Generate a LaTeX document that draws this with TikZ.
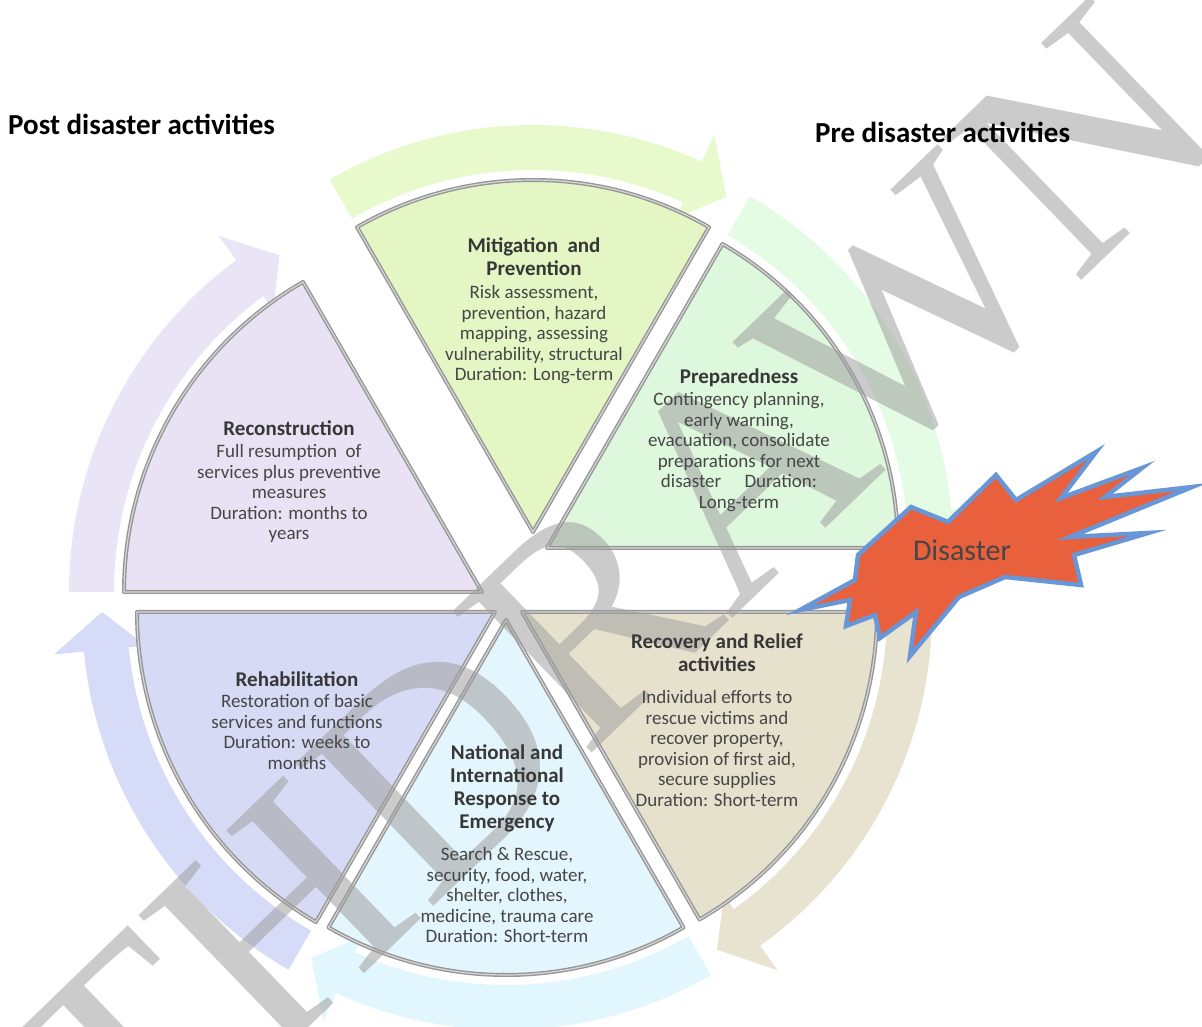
\documentclass[tikz,border=0pt]{standalone}
\usepackage{fontspec}
\setmainfont{Carlito}
\newfontfamily\wmfont{Liberation Serif}
\usepackage{tikz}
\usepackage{xcolor}
\usetikzlibrary{positioning, calc}
\definecolor{mitfill}{RGB}{228,246,196}
\definecolor{mitband}{RGB}{232,250,204}
\definecolor{prepfill}{RGB}{222,248,222}
\definecolor{prepband}{RGB}{228,251,228}
\definecolor{recofill}{RGB}{233,226,244}
\definecolor{recoband}{RGB}{234,229,246}
\definecolor{rehafill}{RGB}{214,218,245}
\definecolor{rehaband}{RGB}{214,219,247}
\definecolor{respfill}{RGB}{228,246,253}
\definecolor{respband}{RGB}{226,246,253}
\definecolor{relifill}{RGB}{230,225,205}
\definecolor{reliband}{RGB}{231,227,208}
\definecolor{segline}{RGB}{150,150,150}
\definecolor{segin}{RGB}{215,215,215}
\definecolor{labelgray}{RGB}{70,70,70}
\definecolor{titlegray}{RGB}{55,55,55}
\definecolor{burstred}{RGB}{232,96,60}
\definecolor{burstblue}{RGB}{104,150,214}
\definecolor{wmgray}{RGB}{160,160,160}
\tikzstyle{Sector} = [draw=segline, double=segin, double distance=1.2pt, line width=1.4pt, line join=round]
\tikzstyle{Label} = [align=center, text=labelgray, inner sep=0pt, anchor=north,
  font=\fontsize{19}{20.5}\selectfont]
\tikzstyle{Head} = [inner sep=0pt, anchor=west, font=\fontsize{29}{34}\selectfont\bfseries]
\tikzstyle{Burst} = [fill=burstred, draw=burstblue, line width=4.5pt, line join=miter]
\tikzstyle{Watermark} = [text=wmgray, opacity=0.55, rotate=44, inner sep=0pt,
  font=\fontsize{303}{303}\wmfont]
\newcommand{\ttl}[1]{{\fontsize{21}{20.5}\selectfont\bfseries\color{titlegray}#1}}
\newcommand{\cyclearrow}[5]{%
  \pgfmathsetmacro{\rin}{#2+10}\pgfmathsetmacro{\rout}{#2+55}%
  \pgfmathsetmacro{\rbarbin}{#2-7}\pgfmathsetmacro{\rbarbout}{#2+85}%
  \pgfmathsetmacro{\rtip}{#2+35}\pgfmathsetmacro{\abase}{#4+5.5}%
  \fill[#5] ($(#1)+(#3:\rout)$) arc[start angle=#3, end angle=\abase, radius=\rout]
    -- ($(#1)+(\abase:\rbarbout)$) -- ($(#1)+(#4:\rtip)$) -- ($(#1)+(\abase:\rbarbin)$)
    -- ($(#1)+(\abase:\rin)$) arc[start angle=\abase, end angle=#3, radius=\rin] -- cycle;}

\begin{document}
\begin{tikzpicture}[x=1pt, y=1pt]
    \useasboundingbox (0,0) rectangle (1202,1026);
    \clip (0,0) rectangle (1202,1026);

    \coordinate (mitigation) at (533,494);
    \coordinate (preparedness) at (547,478);
    \coordinate (reconstruction) at (482,434);
    \coordinate (rehabilitation) at (495,414);
    \coordinate (response) at (506,406);
    \coordinate (recovery) at (522,414);

    \cyclearrow{mitigation}{352}{120}{60}{mitband}
    \cyclearrow{preparedness}{351}{60}{0}{prepband}
    \cyclearrow{recovery}{355}{360}{300}{reliband}
    \cyclearrow{response}{355}{300}{240}{respband}
    \cyclearrow{rehabilitation}{358}{240}{180}{rehaband}
    \cyclearrow{reconstruction}{358}{180}{121}{recoband}

    \draw[Sector, fill=mitfill] (mitigation) -- ++(60:352) arc[start angle=60, end angle=120, radius=352] -- cycle;
    \draw[Sector, fill=prepfill] (preparedness) -- ++(0:351) arc[start angle=0, end angle=60, radius=351] -- cycle;
    \draw[Sector, fill=recofill] (reconstruction) -- ++(120:358) arc[start angle=120, end angle=180, radius=358] -- cycle;
    \draw[Sector, fill=rehafill] (rehabilitation) -- ++(180:358) arc[start angle=180, end angle=240, radius=358] -- cycle;
    \draw[Sector, fill=respfill] (response) -- ++(240:355) arc[start angle=240, end angle=300, radius=355] -- cycle;
    \draw[Sector, fill=relifill] (recovery) -- ++(300:355) arc[start angle=300, end angle=360, radius=355] -- cycle;

    \draw[Burst] (800,416) -- (855,446) -- (858,471) -- (911,519) -- (948,504) -- (996,551)
      -- (1016,526) -- (1096,574) -- (1061,528) -- (1142,558) -- (1105,529) -- (1192,539)
      -- (1070,489) -- (1148,493) -- (1074,471) -- (1081,441) -- (1005,449) -- (959,429)
      -- (910,370) -- (916,414) -- (880,388) -- (875,411) -- (846,400) -- (850,426) -- cycle;

    \node[Watermark] (withdrawn) at (478,298) {WITHDRAWN};

    \node[Label] (mitigationtext) at (534,788) {\ttl{Mitigation\ \ and}\\[2.5pt]\ttl{Prevention}\\[2.5pt]
      Risk assessment,\\prevention, hazard\\mapping, assessing\\vulnerability, structural\\Duration: Long-term};
    \node[Label] (preparednesstext) at (739,657) {\ttl{Preparedness}\\[1.5pt]
      Contingency planning,\\early warning,\\evacuation, consolidate\\preparations for next\\disaster\quad\ Duration:\\Long-term};
    \node[Label] (reconstructiontext) at (289,605) {\ttl{Reconstruction}\\[1.5pt]
      Full resumption\ \ of\\services plus preventive\\measures\\Duration: months to\\years};
    \node[Label] (rehabilitationtext) at (297,354) {\ttl{Rehabilitation}\\[0.5pt]
      Restoration of basic\\services and functions\\Duration: weeks to\\months};
    \node[Label] (responsetext) at (507,281) {\ttl{National and}\\[2.5pt]\ttl{International}\\[2.5pt]\ttl{Response to}\\[2.5pt]\ttl{Emergency}\\[11.5pt]
      Search \& Rescue,\\security, food, water,\\shelter, clothes,\\medicine, trauma care\\Duration: Short-term};
    \node[Label] (recoverytext) at (717,392) {\ttl{Recovery and Relief}\\[2.5pt]\ttl{activities}\\[11.5pt]
      Individual efforts to\\rescue victims and\\recover property,\\provision of first aid,\\secure supplies\\Duration: Short-term};

    \node[Head] (post) at (8,902) {Post disaster activities};
    \node[Head] (pre) at (815,894) {Pre disaster activities};
    \node[text=labelgray, font=\fontsize{30}{34}\selectfont] (disaster) at (962,476) {Disaster};
\end{tikzpicture}
\end{document}
